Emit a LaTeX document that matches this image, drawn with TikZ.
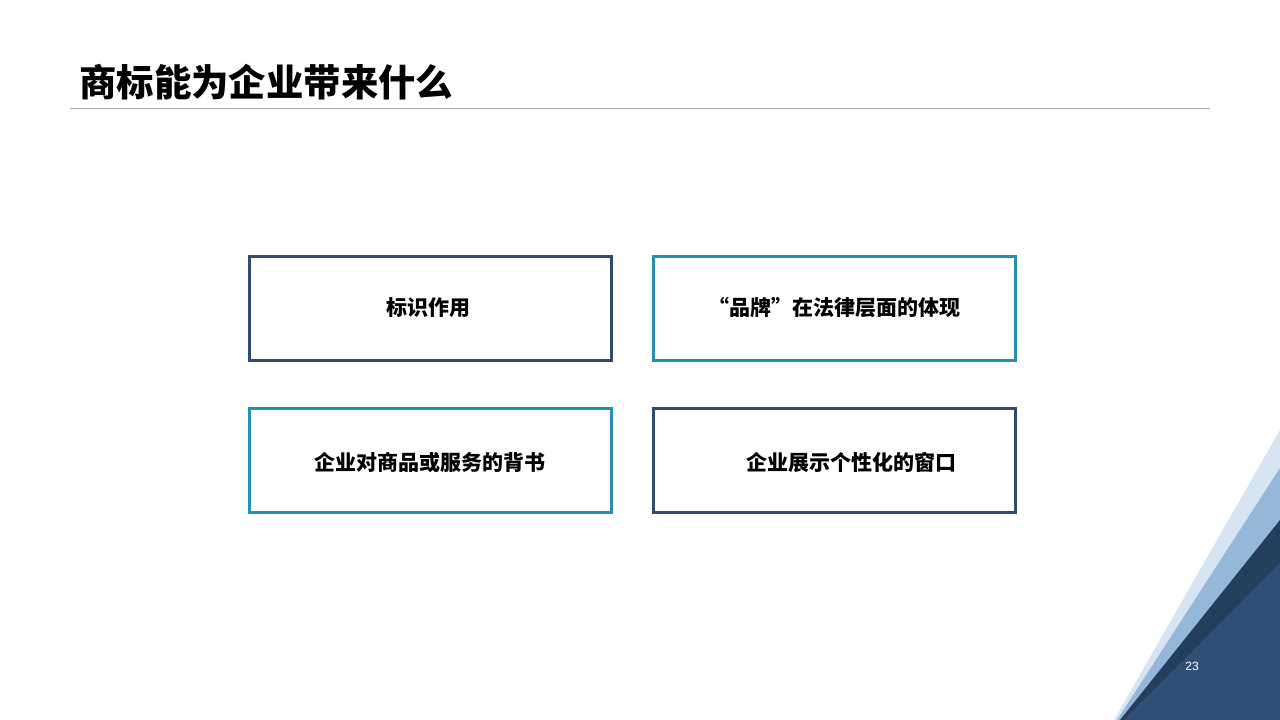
\documentclass[tikz,border=0pt]{standalone}
\usepackage{fontspec}
\newfontfamily\cjk{Noto Sans CJK SC}
\newfontfamily\arialf{Liberation Sans}
\definecolor{navy}{HTML}{2E4B70}
\definecolor{teal}{HTML}{2690B0}
\definecolor{tri1}{HTML}{D7E4F1}
\definecolor{tri2}{HTML}{95B7D9}
\definecolor{tri3}{HTML}{243F5D}
\definecolor{tri4}{HTML}{2E5077}
\definecolor{rulegray}{HTML}{A6A6A6}
\tikzset{
  card/.style={draw, line width=3pt, minimum width=362pt, minimum height=104pt, fill=white, inner sep=0pt},
  navycard/.style={card, draw=navy},
  tealcard/.style={card, draw=teal},
  cardtext/.style={font=\cjk\bfseries\fontsize{21}{25}\selectfont, text=black}
}
\begin{document}
\begin{tikzpicture}[x=1pt,y=-1pt]
\useasboundingbox (0,0) rectangle (1280,720);
\fill[white] (0,0) rectangle (1280,720);
% decorative triangles
\fill[tri1] (1114,720) -- (1280,430) -- (1280,720) -- cycle;
\fill[tri2] (1117,720) -- (1280,468) -- (1280,720) -- cycle;
\fill[tri3] (1120,720) -- (1280,520) -- (1280,720) -- cycle;
\fill[tri4] (1124,720) -- (1280,563) -- (1280,720) -- cycle;
\node[text=white, font=\arialf\fontsize{12}{14}\selectfont] (pg) at (1192,666) {23};
% title
\node[anchor=west, inner sep=0pt, font=\cjk\bfseries\fontsize{37.4}{40}\selectfont] (title) at (79,82) {商标能为企业带来什么};
\coordinate (ruleL) at (70,108);
\coordinate (ruleR) at (1210,108);
\draw[rulegray, line width=1pt] (ruleL) -- (ruleR);
% cards
\node[navycard] (c1) at (430.5,308) {};
\node[tealcard] (c2) at (834,308) {};
\node[tealcard] (c3) at (430.5,460) {};
\node[navycard] (c4) at (834,460.5) {};
\node[cardtext] (t1) at (428,308) {标识作用};
\node[cardtext] (t2) at (834,308) {“品牌”在法律层面的体现};
\node[cardtext] (t3) at (429.5,463) {企业对商品或服务的背书};
\node[cardtext] (t4) at (851,463) {企业展示个性化的窗口};
\end{tikzpicture}
\end{document}
